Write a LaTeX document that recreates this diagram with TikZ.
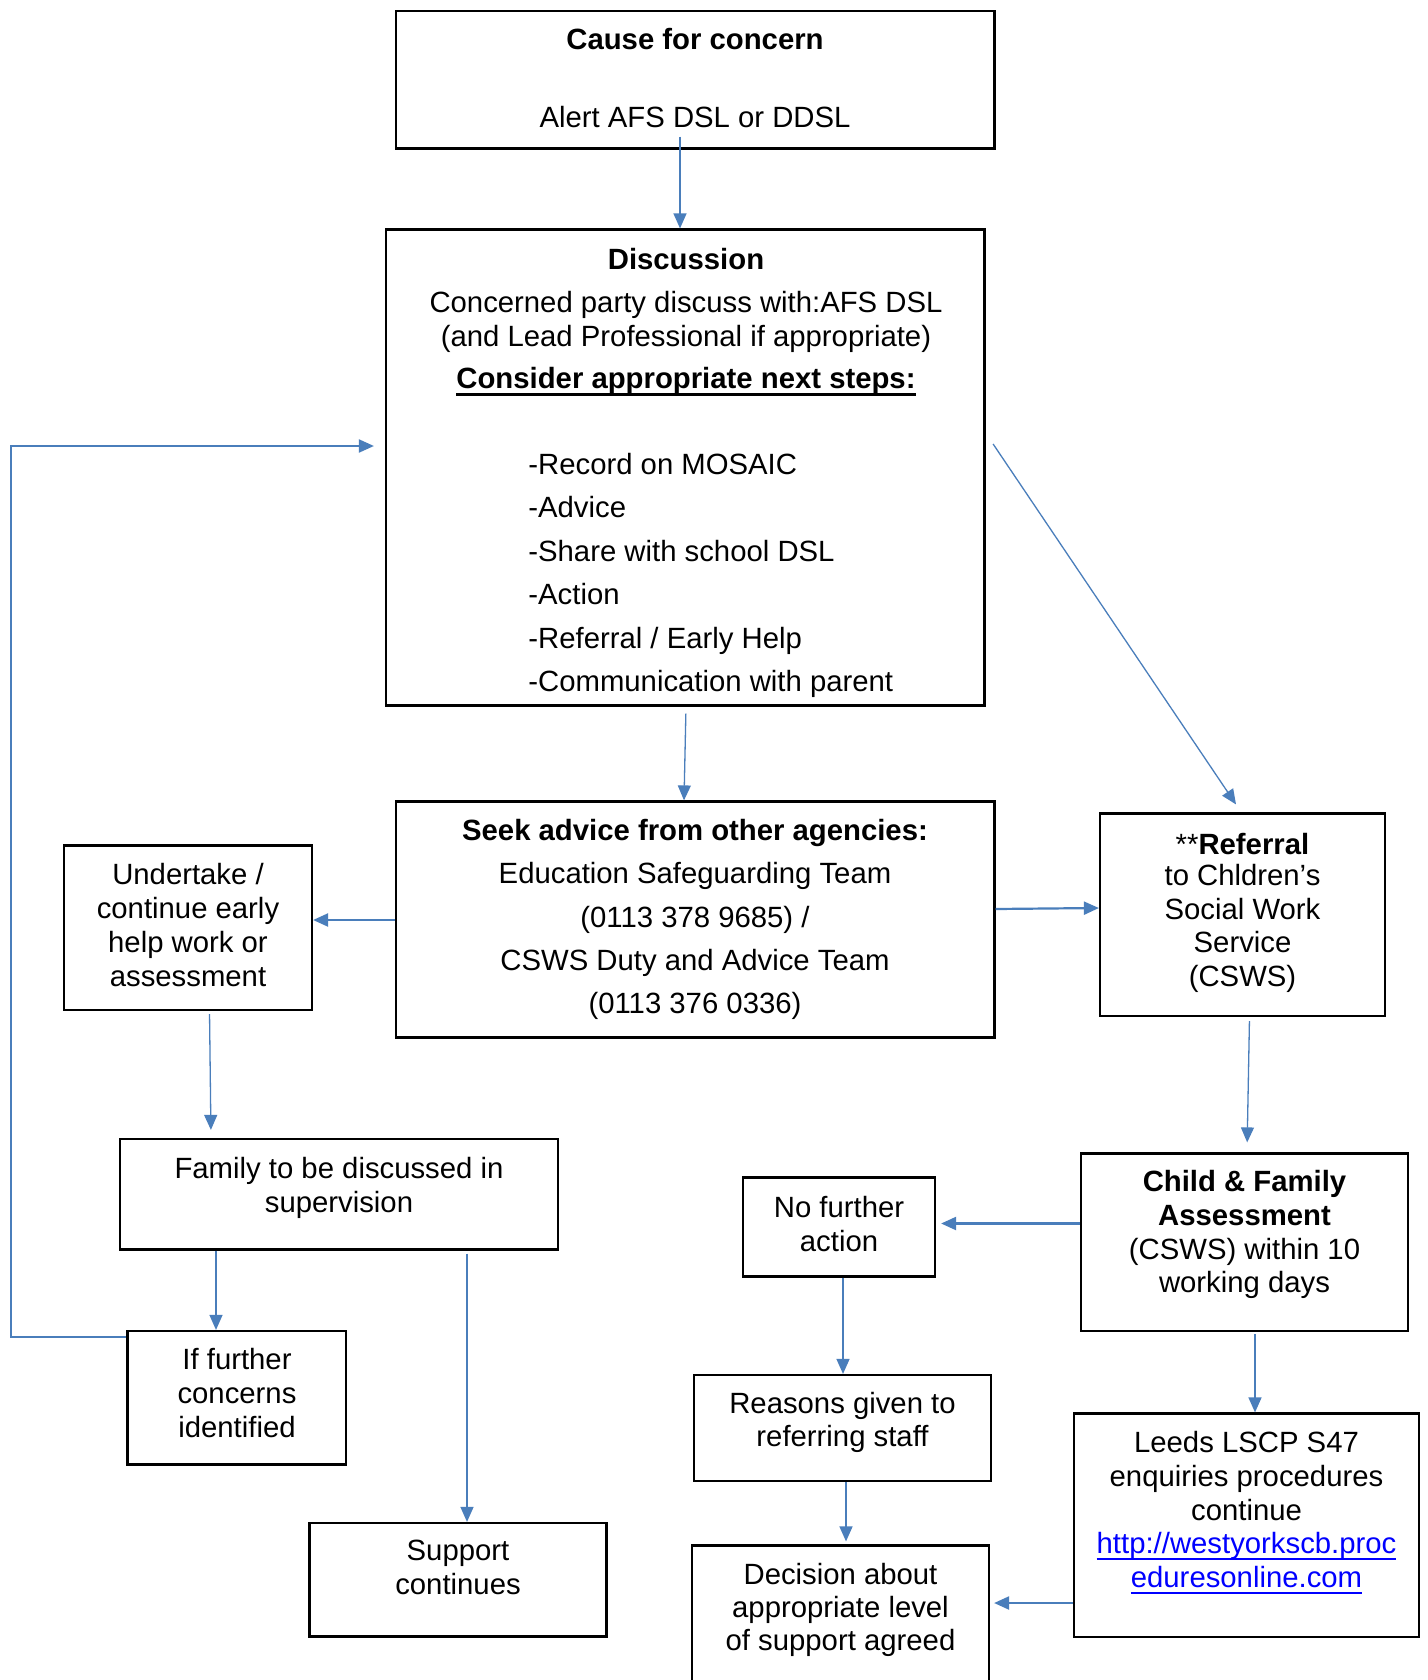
\documentclass[tikz,border=0pt]{standalone}
\usepackage{fontspec}
\setmainfont{Liberation Sans}
\usetikzlibrary{arrows.meta,fit,calc}
\definecolor{arrblue}{HTML}{4A7EBB}
\definecolor{linkblue}{HTML}{0000FF}
\newcommand\fsz{\fontsize{14.65pt}{17pt}\selectfont}
\newcommand\ulthick[1]{\setbox0=\hbox{#1}\rlap{\rule[-3.8pt]{\wd0}{1.65pt}}\box0}
\newcommand\ullink[1]{\setbox0=\hbox{#1}\rlap{\rule[-3.2pt]{\wd0}{1.1pt}}\box0}
\begin{document}
\begin{tikzpicture}[x=0.5pt,y=-0.5pt,
  box/.style={draw=black, line width=1.1pt, inner sep=0pt},
  t/.style={anchor=base, inner sep=0pt, font=\fsz, yshift=-0.75pt},
  tl/.style={anchor=base west, inner sep=0pt, font=\fsz, yshift=-0.5pt},
  arr/.style={draw=arrblue, line width=0.65pt, -{Triangle[length=7.5pt,width=6.5pt]}},
  arrthick/.style={arr, line width=1.1pt},
  arrmid/.style={arr, line width=1pt}]
\useasboundingbox (0,0) rectangle (1428,1680);
\fill[white] (0,0) rectangle (1428,1680);
\clip (0,0) rectangle (1428,1680);

% boxes
\node[box, fit={(396,11) (994.5,148.5)}] (b1) {};
\node[box, fit={(386,229.5) (984.5,705.5)}] (b2) {};
\node[box, fit={(396,801.5) (994.5,1037.5)}] (b3) {};
\node[box, fit={(64,845.5) (312,1010)}] (und) {};
\node[box, fit={(1100,813.5) (1385,1016)}] (ref) {};
\node[box, fit={(120,1139) (558,1249.5)}] (fam) {};
\node[box, fit={(127.5,1331) (346,1464.5)}] (iff) {};
\node[box, fit={(309.5,1523) (606.5,1636.5)}] (sup) {};
\node[box, fit={(743,1177.5) (935,1276.5)}] (nfa) {};
\node[box, fit={(1081,1153.5) (1408,1331)}] (cfa) {};
\node[box, fit={(694,1375) (991,1481)}] (rea) {};
\node[box, fit={(692,1545.5) (989,1720)}] (dec) {};
\node[box, fit={(1074,1413.5) (1419,1637)}] (lee) {};

% texts
\node[t] (b1t1) at (695,48) {\bfseries Cause for concern};
\node[t] (b1t2) at (695,126) {Alert AFS DSL or DDSL};

\node[t] (b2t1) at (686,268) {\bfseries Discussion};
\node[t] (b2t2) at (686,311) {Concerned party discuss with:AFS DSL};
\node[t] (b2t3) at (686,344.5) {(and Lead Professional if appropriate)};
\node[t] (b2t4) at (686,387) {\bfseries\ulthick{Consider appropriate next steps:}};
\node[tl] (b2l1) at (528,473) {-Record on MOSAIC};
\node[tl] (b2l2) at (528,516.5) {-Advice};
\node[tl] (b2l3) at (528,560) {-Share with school DSL};
\node[tl] (b2l4) at (528,603.5) {-Action};
\node[tl] (b2l5) at (528,647) {-Referral / Early Help};
\node[tl] (b2l6) at (528,690.5) {-Communication with parent};

\node[t] (b3t1) at (695,838.5) {\bfseries Seek advice from other agencies:};
\node[t] (b3t2) at (695,881.5) {Education Safeguarding Team};
\node[t] (b3t3) at (695,925.5) {(0113 378 9685) /};
\node[t] (b3t4) at (695,969) {CSWS Duty and Advice Team};
\node[t] (b3t5) at (695,1012) {(0113 376 0336)};

\node[t] (unt1) at (188,883) {Undertake /};
\node[t] (unt2) at (188,917) {continue early};
\node[t] (unt3) at (188,950.5) {help work or};
\node[t] (unt4) at (188,984.5) {assessment};

\node[t] (ret1) at (1242.5,852.5) {**\textbf{Referral}};
\node[t] (ret2) at (1242.5,884) {to Chldren’s};
\node[t] (ret3) at (1242.5,917.5) {Social Work};
\node[t] (ret4) at (1242.5,951) {Service};
\node[t] (ret5) at (1242.5,984.5) {(CSWS)};

\node[t] (fat1) at (339,1177) {Family to be discussed in};
\node[t] (fat2) at (339,1210.5) {supervision};

\node[t] (ift1) at (237,1368) {If further};
\node[t] (ift2) at (237,1402) {concerns};
\node[t] (ift3) at (237,1436) {identified};

\node[t] (sut1) at (458,1559) {Support};
\node[t] (sut2) at (458,1593) {continues};

\node[t] (nft1) at (839,1216) {No further};
\node[t] (nft2) at (839,1249.5) {action};

\node[t] (cft1) at (1244.5,1190) {\bfseries Child \& Family};
\node[t] (cft2) at (1244.5,1224) {\bfseries Assessment};
\node[t] (cft3) at (1244.5,1257.5) {(CSWS) within 10};
\node[t] (cft4) at (1244.5,1291) {working days};

\node[t] (rat1) at (842.5,1411.5) {Reasons given to};
\node[t] (rat2) at (842.5,1445) {referring staff};

\node[t] (det1) at (840.5,1582.5) {Decision about};
\node[t] (det2) at (840.5,1615.5) {appropriate level};
\node[t] (det3) at (840.5,1649) {of support agreed};

\node[t] (let1) at (1246.5,1450.5) {Leeds LSCP S47};
\node[t] (let2) at (1246.5,1484.5) {enquiries procedures};
\node[t] (let3) at (1246.5,1518.5) {continue};
\node[t, text=linkblue] (let4) at (1246.5,1552.3) {\ullink{http://westyorkscb.proc}};
\node[t, text=linkblue] (let5) at (1246.5,1586.3) {\ullink{eduresonline.com}};

% connectors
\draw[arr, shorten <=-6.5pt] (680,0 |- b1.south) -- (680,0 |- b2.north);
\draw[arr, shorten <=3.5pt] (686,0 |- b2.south) -- (684,0 |- b3.north);
\draw[arr] ($(b2.east |- 0,444)+(7.5,0)$) -- ($(1236,0 |- ref.north)+(0,-8)$);
\draw[arrmid] (iff.west |- 0,1337) -| (11,446) -- ($(b2.west |- 0,446)+(-11,0)$);
\draw[arrthick] (b3.west |- 0,920) -- (und.east |- 0,920);
\draw[arrthick] (b3.east |- 0,909) -- (ref.west |- 0,908);
\draw[arr, shorten <=1.5pt, shorten >=4pt] (209.5,0 |- und.south) -- (211,0 |- fam.north);
\draw[arr, shorten <=2pt, shorten >=5pt] (1249.5,0 |- ref.south) -- (1247,0 |- cfa.north);
\draw[arr] (216,0 |- fam.south) -- (216,0 |- iff.north);
\draw[arr, shorten <=1.5pt] (467,0 |- fam.south) -- (467,0 |- sup.north);
\draw[arrthick, shorten >=2.5pt] (cfa.west |- 0,1223.5) -- (nfa.east |- 0,1223.5);
\draw[arr] (843,0 |- nfa.south) -- (843,0 |- rea.north);
\draw[arr, shorten <=1pt] (1255,0 |- cfa.south) -- (1255,0 |- lee.north);
\draw[arr, shorten >=1.5pt] (846,0 |- rea.south) -- (846,0 |- dec.north);
\draw[arrthick, shorten >=2pt] (lee.west |- 0,1603) -- (dec.east |- 0,1603);
\end{tikzpicture}
\end{document}
